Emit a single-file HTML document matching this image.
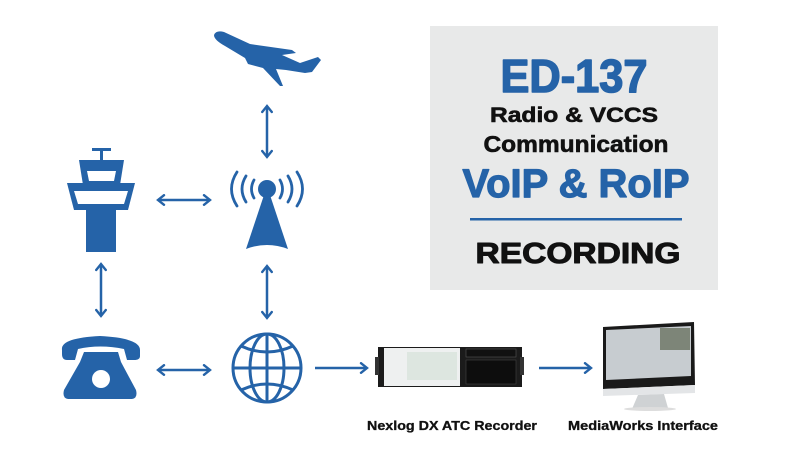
<!DOCTYPE html>
<html><head><meta charset="utf-8"><style>html,body{margin:0;padding:0;background:#fff}svg{display:block}</style></head>
<body>
<svg width="792" height="452" viewBox="0 0 792 452" xmlns="http://www.w3.org/2000/svg" font-family="Liberation Sans, sans-serif" font-weight="bold">
<defs>
<marker id="ah" viewBox="0 0 10 10" refX="8.5" refY="5" markerWidth="12" markerHeight="12" orient="auto-start-reverse" markerUnits="userSpaceOnUse">
<path d="M3.5,1 L8.5,5 L3.5,9" fill="none" stroke="#2563a8" stroke-width="2" stroke-linecap="round"/></marker>
</defs>
<rect x="430" y="26" width="288" height="264" fill="#e8e9e9"/>
<g stroke-linejoin="round">
<text x="574" y="92" text-anchor="middle" font-size="46" fill="#2563a8" stroke="#2563a8" stroke-width="1.5" textLength="147" lengthAdjust="spacingAndGlyphs">ED-137</text>
<text x="574" y="122" text-anchor="middle" font-size="21" fill="#111" stroke="#111" stroke-width="0.6" textLength="168" lengthAdjust="spacingAndGlyphs">Radio &amp; VCCS</text>
<text x="576" y="152" text-anchor="middle" font-size="23" fill="#111" stroke="#111" stroke-width="0.6" textLength="185" lengthAdjust="spacingAndGlyphs">Communication</text>
<text x="576" y="197" text-anchor="middle" font-size="40" fill="#2563a8" stroke="#2563a8" stroke-width="1.2" textLength="227" lengthAdjust="spacingAndGlyphs">VoIP &amp; RoIP</text>
<rect x="470" y="218" width="212" height="2.5" fill="#2563a8" stroke="none"/>
<text x="578" y="263" text-anchor="middle" font-size="29" fill="#111" stroke="#111" stroke-width="1" textLength="205" lengthAdjust="spacingAndGlyphs">RECORDING</text>
</g>

<g stroke="#2563a8" stroke-width="2.5" fill="none" marker-start="url(#ah)" marker-end="url(#ah)">
<line x1="267" y1="106" x2="267" y2="157"/>
<line x1="158" y1="200" x2="210" y2="200"/>
<line x1="101" y1="264" x2="101" y2="316"/>
<line x1="267" y1="266" x2="267" y2="318"/>
<line x1="158" y1="370" x2="210" y2="370"/>
</g>
<g stroke="#2563a8" stroke-width="2.5" fill="none" marker-end="url(#ah)">
<line x1="315" y1="368" x2="367" y2="368"/>
<line x1="539" y1="368" x2="591" y2="368"/>
</g>

<g fill="#2563a8">
<path d="M214,35 Q216,30 224,32 L250,44 L292,50 L296,53 L282,55 L300,63 L318,57 L321,60 L312,72 L305,73 L286,70 L276,69 L283,86 L280,86 L263,68 L248,64 L245,58 L225,46 Q214,40 214,35Z"/>
<rect x="92" y="148" width="19" height="3"/>
<rect x="100" y="150" width="3" height="10"/>
<path d="M79,160 L124,160 L120,185 L83,185Z"/>
<path d="M67,183 L135,183 L128,210 L74,210Z"/>
<rect x="86" y="210" width="30" height="42"/>
<circle cx="267" cy="189" r="9"/>
<path d="M264,195 L270,195 L288,249 Q267,241 246,249Z"/>
</g>
<path d="M87,171 L116,171 L114,181 L89,181Z" fill="#fff"/>
<path d="M74,191 L128,191 L124,204 L78,204Z" fill="#fff"/>
<g stroke="#2563a8" stroke-width="2.8" fill="none" stroke-linecap="round">
<path d="M254,180 Q249,189 254,198"/><path d="M280,180 Q285,189 280,198"/>
<path d="M246,176 Q238,189 246,202"/><path d="M288,176 Q296,189 288,202"/>
<path d="M237,172 Q226,189 237,206"/><path d="M297,172 Q308,189 297,206"/>
</g>
<g fill="#2563a8">
<path d="M62,350 Q60,338 100,336 Q140,338 140,350 L140,356 Q140,360 134,360 L127,360 L124,349 Q100,344 78,349 L75,360 L67,360 Q62,360 62,354Z"/>
<path d="M84,352 L118,352 L121,362 L136,390 Q138,398 132,399 L68,399 Q62,398 64,390 L80,362Z"/>
</g>
<circle cx="101" cy="379" r="9" fill="#fff"/>
<g stroke="#2563a8" stroke-width="3" fill="none">
<circle cx="267" cy="368" r="34"/>
<line x1="267" y1="334" x2="267" y2="402"/>
<line x1="233" y1="368" x2="301" y2="368"/>
<ellipse cx="267" cy="368" rx="17" ry="34"/>
<path d="M241,346 Q267,358 293,346"/><path d="M241,390 Q267,378 293,390"/>
</g>
<rect x="378" y="347" width="144" height="40" fill="#1b1b1b"/>
<rect x="384" y="348" width="76" height="38" fill="#eef0f0"/>
<rect x="407" y="352" width="50" height="28" fill="#dde6e0"/>
<rect x="466" y="349" width="50" height="8" fill="#111" stroke="#555" stroke-width="0.6"/>
<rect x="466" y="360" width="50" height="24" fill="#0d0d0d" stroke="#444" stroke-width="0.6"/>
<rect x="520" y="357" width="4" height="18" fill="#333"/>
<rect x="375" y="357" width="4" height="18" fill="#333"/>
<path d="M603,327 L694,322 L695,385 L603,389Z" fill="#1a1a1a"/>
<path d="M606,330 L691,326 L691,376 L606,380Z" fill="#c7ccd0"/>
<rect x="660" y="328" width="30" height="22" fill="#7d8578"/>
<path d="M603,389 L695,385 L695,393 L603,396Z" fill="#e3e5e7"/>
<path d="M638,395 L664,394 L668,408 L632,409Z" fill="#cfd2d4"/>
<ellipse cx="650" cy="409" rx="26" ry="2" fill="#ddd"/>

<text x="452" y="430" text-anchor="middle" font-size="12.5" fill="#111" stroke="#111" stroke-width="0.3" textLength="170" lengthAdjust="spacingAndGlyphs">Nexlog DX ATC Recorder</text>
<text x="643" y="430" text-anchor="middle" font-size="12.5" fill="#111" stroke="#111" stroke-width="0.3" textLength="150" lengthAdjust="spacingAndGlyphs">MediaWorks Interface</text>
</svg>
</body></html>
